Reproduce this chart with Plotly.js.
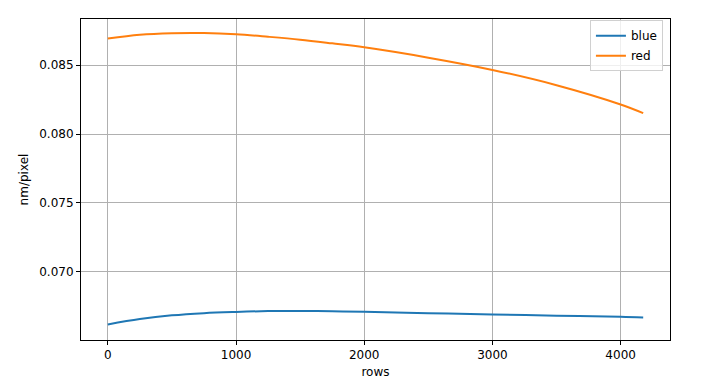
<!DOCTYPE html>
<html>
<head>
<meta charset="utf-8">
<script src="https://cdn.plot.ly/plotly-3.0.1.min.js"></script>
<style>html,body{margin:0;padding:0;background:#fff;}#chart{width:713px;height:381px;}</style>
</head>
<body>
<div id="chart"></div>
<script>
const rows = [0, 250, 500, 750, 1000, 1250, 1500, 1750, 2000, 2500, 3000, 3500, 4000, 4176];
const blueValues = [0.06617, 0.06656, 0.06683, 0.06699, 0.06708, 0.06714, 0.06715, 0.06713, 0.06709, 0.06699, 0.06689, 0.06681, 0.06673, 0.06668];
const redValues = [0.08694, 0.08722, 0.08733, 0.08734, 0.08725, 0.08707, 0.08686, 0.08659, 0.08630, 0.08555, 0.08466, 0.08355, 0.08215, 0.08152];
const seriesNames = ['blue', 'red'];
const xTicks = [0, 1000, 2000, 3000, 4000];
const yTicks = [0.070, 0.075, 0.080, 0.085];
const yTickLabels = ['0.070', '0.075', '0.080', '0.085'];

const font = {family: 'DejaVu Sans, sans-serif', size: 12, color: '#000'};
const traces = [
  {x: rows, y: blueValues, name: seriesNames[0], legendgroup: 'g1', type: 'scatter', mode: 'lines',
   line: {color: '#1f77b4', width: 2, shape: 'spline', smoothing: 1}},
  {x: rows, y: redValues, name: seriesNames[1], legendgroup: 'g2', type: 'scatter', mode: 'lines',
   line: {color: '#ff7f0e', width: 2, shape: 'spline', smoothing: 1}}
];
const axisCommon = {
  showline: true, mirror: true, linecolor: '#000', linewidth: 1,
  ticks: 'outside', ticklen: 4, tickwidth: 1, tickcolor: '#000',
  showgrid: true, gridcolor: '#b0b0b0', gridwidth: 1, zeroline: false,
  tickfont: font
};
const layout = {
  width: 713, height: 381,
  margin: {l: 81, r: 43, t: 19, b: 41},
  paper_bgcolor: '#fff', plot_bgcolor: '#fff',
  font: font,
  showlegend: true,
  legend: {x: 0.988, y: 0.996, xanchor: 'right', yanchor: 'top',
    bgcolor: 'rgba(255,255,255,0.8)', bordercolor: '#d0d0d0', borderwidth: 1,
    font: font, tracegroupgap: 1},
  xaxis: Object.assign({}, axisCommon, {
    range: [-209, 4385], tickvals: xTicks, ticktext: xTicks.map(String),
    title: {text: 'rows', font: font, standoff: 6}
  }),
  yaxis: Object.assign({}, axisCommon, {
    range: [0.06504, 0.08836], tickvals: yTicks, ticktext: yTickLabels,
    title: {text: 'nm/pixel', font: font, standoff: 8}
  })
};
Plotly.newPlot('chart', traces, layout, {displayModeBar: false, staticPlot: true});
</script>
</body>
</html>
